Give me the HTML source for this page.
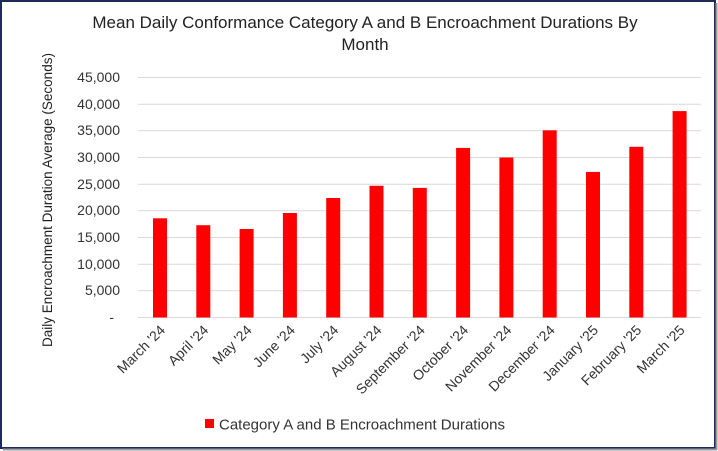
<!DOCTYPE html>
<html><head><style>
body{margin:0;background:#fff}
#c{position:relative;width:718px;height:451px;overflow:hidden}
</style></head><body><div id="c">
<svg width="718" height="451" xmlns="http://www.w3.org/2000/svg" font-family="Liberation Sans, sans-serif">
<rect x="1" y="1" width="714" height="447" fill="#fff" stroke="#1f2a5c" stroke-width="2"/>
<line x1="3" y1="449.5" x2="717" y2="449.5" stroke="#999" stroke-width="2"/>
<line x1="716.5" y1="3" x2="716.5" y2="450" stroke="#999" stroke-width="2"/>
<text x="365" y="28" font-size="17" text-anchor="middle" fill="#222">Mean Daily Conformance Category A and B Encroachment Durations By</text>
<text x="365" y="50" font-size="17" text-anchor="middle" fill="#222">Month</text>
<g stroke="#d9d9d9" stroke-width="1">
<line x1="138" x2="701" y1="77.5" y2="77.5"/><line x1="138" x2="701" y1="104.2" y2="104.2"/>
<line x1="138" x2="701" y1="130.8" y2="130.8"/><line x1="138" x2="701" y1="157.5" y2="157.5"/>
<line x1="138" x2="701" y1="184.2" y2="184.2"/><line x1="138" x2="701" y1="210.8" y2="210.8"/>
<line x1="138" x2="701" y1="237.5" y2="237.5"/><line x1="138" x2="701" y1="264.2" y2="264.2"/>
<line x1="138" x2="701" y1="290.8" y2="290.8"/><line x1="138" x2="701" y1="317.5" y2="317.5"/>
</g>
<g font-size="14" fill="#333" text-anchor="end">
<text x="120" y="82">45,000</text><text x="120" y="109">40,000</text><text x="120" y="135">35,000</text>
<text x="120" y="162">30,000</text><text x="120" y="189">25,000</text><text x="120" y="215">20,000</text>
<text x="120" y="242">15,000</text><text x="120" y="269">10,000</text><text x="120" y="295">5,000</text>
<text x="114" y="322">-</text>
</g>
<text transform="translate(52,200) rotate(-90)" font-size="13.5" text-anchor="middle" fill="#222">Daily Encroachment Duration Average (Seconds)</text>
<g fill="#ff0000">
<rect x="153" y="218.3" width="14" height="99.2"/>
<rect x="196.3" y="225.2" width="14" height="92.3"/>
<rect x="239.6" y="229" width="14" height="88.5"/>
<rect x="282.9" y="213" width="14" height="104.5"/>
<rect x="326.2" y="198" width="14" height="119.5"/>
<rect x="369.5" y="185.8" width="14" height="131.7"/>
<rect x="412.8" y="187.9" width="14" height="129.6"/>
<rect x="456.1" y="147.9" width="14" height="169.6"/>
<rect x="499.4" y="157.5" width="14" height="160"/>
<rect x="542.7" y="130.3" width="14" height="187.2"/>
<rect x="586" y="171.9" width="14" height="145.6"/>
<rect x="629.3" y="146.8" width="14" height="170.7"/>
<rect x="672.6" y="111.1" width="14" height="206.4"/>
</g>
<g font-size="14" fill="#333" text-anchor="end">
<text transform="translate(166,331) rotate(-45)">March '24</text>
<text transform="translate(209.3,331) rotate(-45)">April '24</text>
<text transform="translate(252.6,331) rotate(-45)">May '24</text>
<text transform="translate(295.9,331) rotate(-45)">June '24</text>
<text transform="translate(339.2,331) rotate(-45)">July '24</text>
<text transform="translate(382.5,331) rotate(-45)">August '24</text>
<text transform="translate(425.8,331) rotate(-45)">September '24</text>
<text transform="translate(469.1,331) rotate(-45)">October '24</text>
<text transform="translate(512.4,331) rotate(-45)">November '24</text>
<text transform="translate(555.7,331) rotate(-45)">December '24</text>
<text transform="translate(599,331) rotate(-45)">January '25</text>
<text transform="translate(642.3,331) rotate(-45)">February '25</text>
<text transform="translate(685.6,331) rotate(-45)">March '25</text>
</g>
<rect x="205" y="419" width="9" height="9" fill="#ff0000"/>
<text x="219" y="429.5" font-size="15" fill="#333">Category A and B Encroachment Durations</text>
</svg>
</div></body></html>
